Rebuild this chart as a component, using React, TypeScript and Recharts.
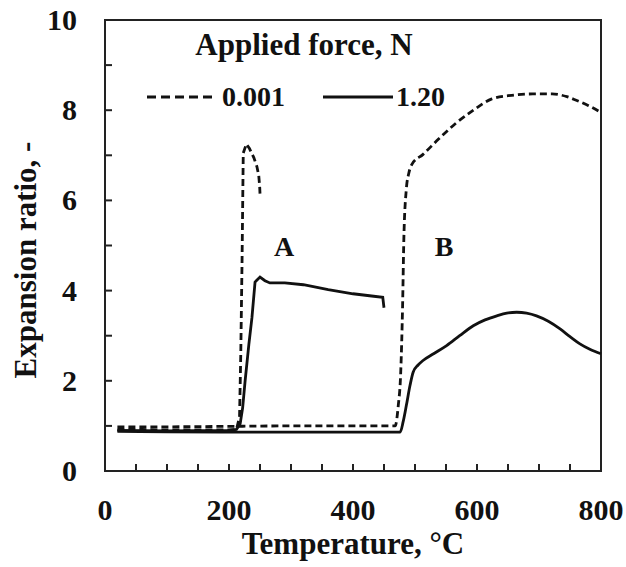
import { LineChart, Line, XAxis, YAxis, ReferenceArea } from 'recharts';

const FONT = '"Liberation Serif", "Times New Roman", serif';
const INK = '#111';

// axis ticks
const xTicks = [0, 50, 100, 150, 200, 250, 300, 350, 400, 450, 500, 550, 600, 650, 700, 750, 800];
const xLabelled = [0, 200, 400, 600, 800];
const yTicks = [0, 1, 2, 3, 4, 5, 6, 7, 8, 9, 10];
const yLabelled = [0, 2, 4, 6, 8, 10];

// 0.001 N, sample A (dashed, short run)
const dashATemp = [20, 60, 100, 150, 200, 212, 217, 219, 221, 223, 228, 233, 240, 245, 248, 249.5, 250];
const dashAVal = [0.92, 0.92, 0.91, 0.91, 0.91, 0.92, 1.2, 2.6, 4.6, 7.05, 7.25, 7.15, 6.95, 6.75, 6.55, 6.3, 6.15];

// 0.001 N, sample B (dashed)
const dashBTemp = [20, 100, 200, 300, 400, 468, 473, 477, 480, 482, 486, 490, 495, 513, 538, 565, 592, 624, 656, 690, 721, 745, 760, 780, 800];
const dashBVal = [0.98, 0.98, 0.99, 1.0, 1.0, 1.0, 1.45, 2.2, 3.67, 5.14, 6.25, 6.6, 6.8, 7.02, 7.36, 7.7, 7.98, 8.25, 8.33, 8.36, 8.36, 8.3, 8.22, 8.1, 7.95];

// 1.20 N, sample A (solid)
const solidATemp = [20, 100, 200, 212, 218, 222, 226, 232, 237, 242, 250, 258, 266, 290, 320, 360, 400, 430, 448, 450];
const solidAVal = [0.9, 0.89, 0.9, 0.92, 1.05, 1.4, 2.0, 2.8, 3.4, 4.19, 4.3, 4.22, 4.17, 4.17, 4.13, 4.02, 3.93, 3.88, 3.85, 3.62];

// 1.20 N, sample B (solid)
const solidBTemp = [20, 100, 200, 300, 400, 476, 481, 486, 492, 497, 505, 513, 530, 551, 572, 594, 613, 632, 648, 664, 680, 696, 715, 734, 750, 766, 782, 800];
const solidBVal = [0.88, 0.87, 0.86, 0.86, 0.86, 0.86, 1.1, 1.45, 1.9, 2.19, 2.35, 2.45, 2.6, 2.78, 3.0, 3.22, 3.35, 3.44, 3.5, 3.52, 3.5, 3.44, 3.32, 3.15, 2.98, 2.82, 2.7, 2.6];

const zip = (t: number[], v: number[]) => t.map((temp, i) => ({ temp, ratio: v[i] }));

const dashA = zip(dashATemp, dashAVal);
const dashB = zip(dashBTemp, dashBVal);
const solidA = zip(solidATemp, solidAVal);
const solidB = zip(solidBTemp, solidBVal);

const textStyle = { fontFamily: FONT, fontWeight: 700, fill: INK } as const;

// eslint-disable-next-line @typescript-eslint/no-explicit-any
function XTick({ x, y, payload }: any) {
  const v = payload.value;
  return (
    <g>
      <line x1={x} y1={y} x2={x} y2={y - 7} stroke="#222" strokeWidth={2} />
      {xLabelled.includes(v) && (
        <text x={x} y={y + 49} textAnchor="middle" fontSize={30} {...textStyle}>
          {v}
        </text>
      )}
    </g>
  );
}

// eslint-disable-next-line @typescript-eslint/no-explicit-any
function YTick({ x, y, payload }: any) {
  const v = payload.value;
  return (
    <g>
      <line x1={x} y1={y} x2={x + 7} y2={y} stroke="#222" strokeWidth={2} />
      {yLabelled.includes(v) && (
        <text x={x - 28} y={y + 10} textAnchor="end" fontSize={30} {...textStyle}>
          {v}
        </text>
      )}
    </g>
  );
}

export default function App() {
  return (
    <div style={{ position: 'absolute', left: 0, top: 0, width: 626, height: 567, background: '#fff' }}>
      <LineChart width={626} height={567} margin={{ top: 20, right: 25, bottom: 0, left: 0 }}>
        <XAxis
          dataKey="temp"
          type="number"
          domain={[0, 800]}
          ticks={xTicks}
          interval={0}
          height={96}
          tickSize={0}
          tickMargin={0}
          tickLine={false}
          axisLine={{ stroke: '#222', strokeWidth: 2 }}
          tick={<XTick />}
          label={{ value: 'Temperature, °C', position: 'insideBottom', offset: 13, fontSize: 31, ...textStyle }}
        />
        <YAxis
          type="number"
          domain={[0, 10]}
          ticks={yTicks}
          interval={0}
          width={105}
          tickSize={0}
          tickMargin={0}
          tickLine={false}
          axisLine={{ stroke: '#222', strokeWidth: 2 }}
          tick={<YTick />}
          label={{
            content: () => (
              <text x={36} y={260} transform="rotate(-90 36 260)" textAnchor="middle" fontSize={31} {...textStyle}>
                Expansion ratio, -
              </text>
            ),
          }}
        />
        <ReferenceArea x1={0} x2={800} y1={0} y2={10} fill="none" stroke="#222" strokeWidth={2} ifOverflow="visible" />
        <Line data={dashA} dataKey="ratio" type="linear" stroke={INK} strokeWidth={2.8} strokeDasharray="7 4" dot={false} isAnimationActive={false} />
        <Line data={dashB} dataKey="ratio" type="monotone" stroke={INK} strokeWidth={2.8} strokeDasharray="7 4" dot={false} isAnimationActive={false} />
        <Line data={solidA} dataKey="ratio" type="linear" stroke={INK} strokeWidth={2.8} dot={false} isAnimationActive={false} />
        <Line data={solidB} dataKey="ratio" type="monotone" stroke={INK} strokeWidth={2.8} dot={false} isAnimationActive={false} />
      </LineChart>
      <svg width={626} height={567} style={{ position: 'absolute', left: 0, top: 0, pointerEvents: 'none' }}>
        <text x={304} y={55} textAnchor="middle" fontSize={31} {...textStyle}>
          Applied force, N
        </text>
        <line x1={147} y1={97} x2={217} y2={97} stroke={INK} strokeWidth={3} strokeDasharray="9 5" />
        <text x={222} y={106} fontSize={28} {...textStyle}>0.001</text>
        <line x1={323} y1={97} x2={393} y2={97} stroke={INK} strokeWidth={3} />
        <text x={396} y={106} fontSize={28} {...textStyle}>1.20</text>
        <text x={284} y={256} textAnchor="middle" fontSize={28} {...textStyle}>A</text>
        <text x={444} y={256} textAnchor="middle" fontSize={28} {...textStyle}>B</text>
      </svg>
    </div>
  );
}
